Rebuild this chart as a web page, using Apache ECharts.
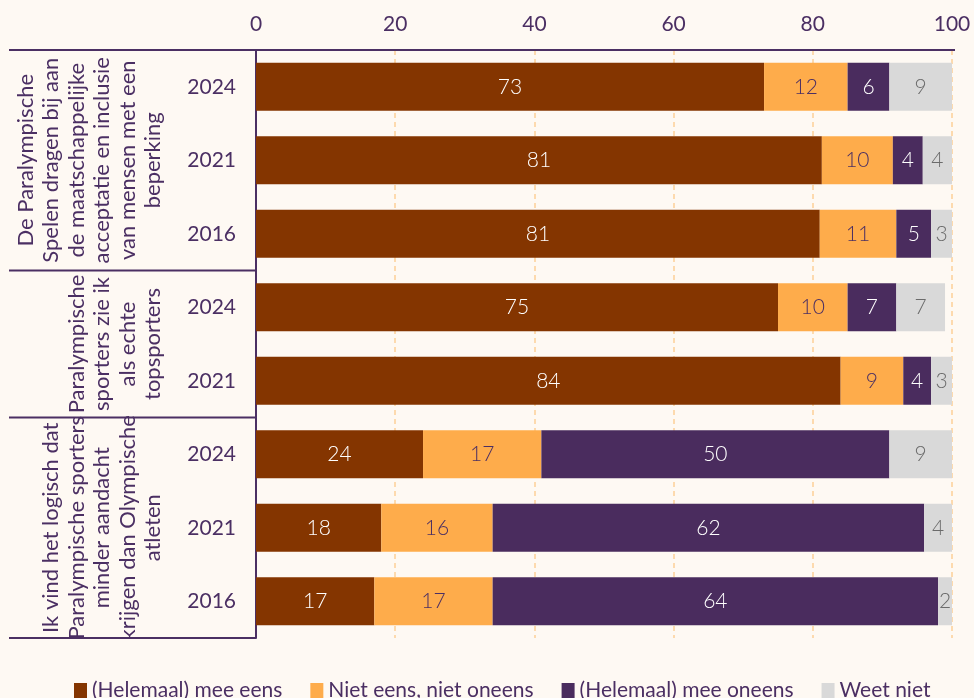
<!DOCTYPE html>
<html><head><meta charset="utf-8">
<script src="https://cdn.jsdelivr.net/npm/echarts@6/dist/echarts.min.js"></script>
<style>html,body{margin:0;padding:0;background:#fef9f3;}#c{width:974px;height:698px;}</style>
</head><body><div id="c"></div>
<script>
const rowYears = ['2024','2021','2016','2024','2021','2024','2021','2016'];
const groupLabels = [
  'De Paralympische\nSpelen dragen bij aan\nde maatschappelijke\nacceptatie en inclusie\nvan mensen met een\nbeperking',
  'Paralympische\nsporters zie ik\nals echte\ntopsporters',
  'Ik vind het logisch dat\nParalympische sporters\nminder aandacht\nkrijgen dan Olympische\natleten'
];
const groupRows = [[0,2],[3,4],[5,7]];
const seriesNames = ['(Helemaal) mee eens','Niet eens, niet oneens','(Helemaal) mee oneens','Weet niet'];
const meeEens   = [73,81.3,81,75,84,24,18,17];
const neutraal  = [12,10.2,11,10,9,17,16,17];
const meeOneens = [6,4.3,5,7,4,50,62,64];
const weetNiet  = [9,4.2,3,7,3,9,4,2];
const xTicks = [0,20,40,60,80,100];

const colors = ['#843500','#feac4b','#4a2c5e','#d9d9d9'];
const labelColors = ['#ffffff','#4b2f63','#ffffff','#6b6b6b'];
const values = [meeEens, neutraal, meeOneens, weetNiet];
const textColor = '#4b2f63';
const FONT = 'Lato, "Noto Sans", sans-serif';
const LIGHT = '"Lato Light", Lato, "Noto Sans", sans-serif';

const chart = echarts.init(document.getElementById('c'), null, {renderer:'canvas'});
const option = {
  backgroundColor: '#fef9f3',
  animation: false,
  textStyle: {fontFamily: FONT},
  grid: {left: 256, right: 22, top: 50, bottom: 60, containLabel: false},
  xAxis: {
    type: 'value', position: 'top', min: 0, max: 100, interval: 20,
    axisLine: {show: false},
    axisTick: {show: false},
    axisLabel: {color: textColor, fontSize: 21, fontFamily: FONT, margin: 15,
      formatter: v => xTicks.includes(v) ? String(v) : ''},
    splitLine: {show: true, lineStyle: {color: '#fdcf98', type: [5,4], width: 1.5}}
  },
  yAxis: {
    type: 'category', inverse: true,
    data: rowYears.map((y,i)=> i+'_'+y),
    axisLine: {show: true, lineStyle: {color: textColor, width: 2}},
    axisTick: {show: false},
    axisLabel: {color: textColor, fontSize: 21, fontFamily: FONT, margin: 20,
      formatter: (v, i) => rowYears[i]}
  },
  legend: {
    top: 675, left: 69, icon: 'rect', itemWidth: 13, itemHeight: 15, itemGap: 28,
    textStyle: {color: textColor, fontSize: 21, fontFamily: FONT},
    data: seriesNames
  },
  series: seriesNames.map((n, k) => ({
    name: n, type: 'bar', stack: 'total', barWidth: 48,
    itemStyle: {color: colors[k]},
    label: {show: true, position: 'inside', color: labelColors[k], fontSize: 21,
      fontFamily: LIGHT, fontWeight: 300,
      formatter: p => String(Math.round(p.value))},
    data: values[k]
  }))
};
chart.setOption(option);

// group separators and rotated group labels
const pc = i => chart.convertToPixel({yAxisIndex: 0}, i);
const band = pc(1) - pc(0);
const boundary = i => pc(i) - band/2;
const xLeft = 9, xAxisPx = chart.convertToPixel({xAxisIndex:0}, 0), xRight = chart.convertToPixel({xAxisIndex:0}, 100);
const gfx = [];
const lineStyle = {stroke: textColor, lineWidth: 2};
gfx.push({type:'line', shape:{x1:xLeft, y1:boundary(0), x2:xRight + 3, y2:boundary(0)}, style: lineStyle, z: 10});
groupRows.forEach(([a,b], g) => {
  const yEnd = boundary(b+1);
  gfx.push({type:'line', shape:{x1:xLeft, y1:yEnd, x2:xAxisPx, y2:yEnd}, style: lineStyle, z: 10});
  const yc = (boundary(a) + yEnd)/2;
  gfx.push({type:'text', x: 166, y: yc, rotation: Math.PI/2,
    style: {text: groupLabels[g], fill: textColor, fontSize: 22, fontFamily: FONT,
      align: 'center', verticalAlign: 'bottom', lineHeight: 25.5}, z: 10});
});
chart.setOption({graphic: gfx});
</script>
</body></html>
